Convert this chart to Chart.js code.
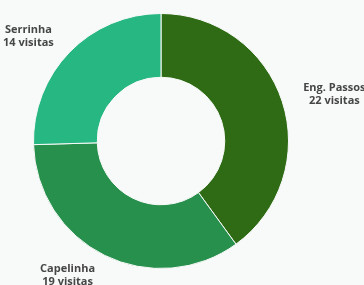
<!DOCTYPE html>
<html>
<head>
<meta charset="utf-8">
<script src="https://cdn.jsdelivr.net/npm/chart.js@4.4.1/dist/chart.umd.min.js"></script>
<style>
    html, body { margin: 0; padding: 0; background: #f8faf9; }
    #wrap { position: relative; width: 364px; height: 285px; }
</style>
</head>
<body>
<div id="wrap"><canvas id="visitasChart"></canvas></div>
<script>
var bairros = ['Eng. Passos', 'Capelinha', 'Serrinha'];
var visitas = [22, 19, 14];
var cores = ['#2e6b14', '#28904d', '#27b783'];

(function () {
    'use strict';

    // draws "name / N visitas" outside each slice, block edge at a fixed distance
    var outsideLabels = {
        id: 'outsideLabels',
        afterDatasetsDraw: function (chart) {
            var ctx = chart.ctx;
            var meta = chart.getDatasetMeta(0);
            var lineHeight = 13;
            ctx.save();
            ctx.font = 'bold 11px "Open Sans", sans-serif';
            ctx.fillStyle = '#464646';
            ctx.textAlign = 'center';
            ctx.textBaseline = 'middle';
            meta.data.forEach(function (arc, i) {
                var props = arc.getProps(['x', 'y', 'startAngle', 'endAngle', 'outerRadius'], true);
                var mid = (props.startAngle + props.endAngle) / 2;
                var dist = props.outerRadius + 22;
                var px = props.x + Math.cos(mid) * dist;
                var py = props.y + Math.sin(mid) * dist;
                var lines = [bairros[i], visitas[i] + ' visitas'];
                var w = Math.max.apply(null, lines.map(function (t) {
                    return ctx.measureText(t).width;
                }));
                var cx = Math.cos(mid) >= 0 ? px + w / 2 : px - w / 2;
                var top = py - (lines.length - 1) * lineHeight / 2;
                lines.forEach(function (t, j) {
                    ctx.fillText(t, cx, top + j * lineHeight);
                });
            });
            ctx.restore();
        }
    };

    new Chart(document.getElementById('visitasChart'), {
        type: 'doughnut',
        data: {
            labels: bairros,
            datasets: [{
                data: visitas,
                backgroundColor: cores,
                borderColor: '#f8faf9',
                borderWidth: 1
            }]
        },
        options: {
            responsive: true,
            maintainAspectRatio: false,
            animation: false,
            cutout: '50%',
            layout: {
                padding: { top: 13, bottom: 16, left: 0, right: 42 }
            },
            plugins: {
                legend: { display: false },
                tooltip: { enabled: false }
            }
        },
        plugins: [outsideLabels]
    });
})();
</script>
</body>
</html>
